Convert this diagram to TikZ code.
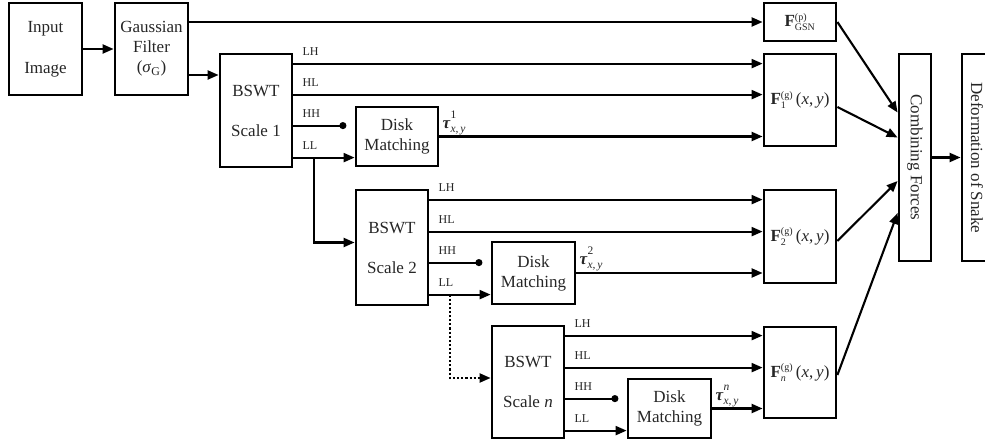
\documentclass[tikz,border=0pt]{standalone}
\usepackage{fontspec}
\setmainfont{Liberation Serif}
\usetikzlibrary{arrows.meta}
\newcommand\scrsize{\fontsize{11.5}{11.5}\selectfont}
\newcommand\fscr{\fontsize{10}{10}\selectfont}
\newcommand\Flab[2]{$\hbox{\bfseries F}^{\hbox{\fscr #1}}_{\hbox{\fscr #2}}$}
\newcommand\taulab[1]{\textbf{\textit{τ}}\makebox[0pt][l]{\raisebox{10pt}{\scrsize #1}}\raisebox{-4pt}{\scrsize\itshape x,\,y}}
\begin{document}
\begin{tikzpicture}[x=1pt,y=-1pt,
  box/.style={draw, line width=2.8pt, inner sep=0pt, align=center,
    font=\fontsize{17}{20}\selectfont, text=black!85},
  conn/.style={line width=2.1pt},
  arr/.style={conn, -{Triangle[length=11pt,width=9pt]}},
  dotend/.style={conn, -{Circle[length=7pt]}},
  dotted line/.style={line width=2.1pt, dotted},
  lbl/.style={font=\fontsize{12}{12}\selectfont, inner sep=0pt, anchor=south west, text=black!85},
  txt/.style={font=\fontsize{17}{20}\selectfont, inner sep=0pt, text=black!85},
  taustyle/.style={inner sep=0pt, anchor=base west, text=black!85, font=\fontsize{17}{20}\selectfont}]
\useasboundingbox (0,0) rectangle (985,446);

% boxes
\node[box, minimum width=73pt, minimum height=92pt] (inp) at (45.5,49) {Input\\[21pt]Image};
\node[box, minimum width=73pt, minimum height=92pt] (gau) at (151.5,49) {Gaussian\\Filter\\(\textit{σ}\textsubscript{G})};
\node[box, minimum width=72pt, minimum height=113pt] (b1) at (256,110.5) {BSWT\\[20pt]Scale 1};
\node[box, minimum width=82pt, minimum height=59pt] (d1) at (397,136.5) {Disk\\Matching};
\node[box, minimum width=72pt, minimum height=115pt] (b2) at (392,247.5) {BSWT\\[20pt]Scale 2};
\node[box, minimum width=83pt, minimum height=62pt] (d2) at (533.5,273) {Disk\\Matching};
\node[box, minimum width=72pt, minimum height=112pt] (bn) at (528,382) {BSWT\\[20pt]Scale \textit{n}};
\node[box, minimum width=83pt, minimum height=59pt] (dn) at (669.5,408.5) {Disk\\Matching};

\node[box, minimum width=72pt, minimum height=38pt] (fg) at (800,22) {\Flab{(p)}{GSN}};
\node[box, minimum width=72pt, minimum height=92pt] (f1) at (800,100) {\Flab{(g)}{1}\,(\textit{x},\,\textit{y})};
\node[box, minimum width=72pt, minimum height=93pt] (f2) at (800,236.5) {\Flab{(g)}{2}\,(\textit{x},\,\textit{y})};
\node[box, minimum width=72pt, minimum height=91pt] (fn) at (800,372.5) {\Flab{(g)}{\itshape n}\,(\textit{x},\,\textit{y})};

\node[box, minimum width=32pt, minimum height=207pt] (comb) at (915,157.5) {};
\node[txt, rotate=-90] (combt) at (comb) {Combining Forces};
\node[box, minimum width=42pt, minimum height=207pt] (def) at (983,157.5) {};
\node[txt, rotate=-90] (deft) at (977,158) {Deformation of Snake};

% top connectors
\draw[arr] (inp) -- (gau);
\draw[arr] (gau.east |- fg.west) -- (fg.west);
\coordinate (gout) at ([yshift=-26pt]gau.east);
\draw[arr] (gout) -- (gout -| b1.west);

% scale 1
\coordinate (b1lh) at ([yshift=-11pt]b1.north east);
\coordinate (b1hl) at ([yshift=-42pt]b1.north east);
\coordinate (b1hh) at ([yshift=-73pt]b1.north east);
\coordinate (b1ll) at ([yshift=-105pt]b1.north east);
\draw[arr] (b1lh) -- (b1lh -| f1.west);
\draw[arr] (b1hl) -- (b1hl -| f1.west);
\coordinate (b1dot) at ([xshift=53pt]b1hh);
\draw[dotend] (b1hh) -- (b1dot);
\draw[arr] (b1ll) -- (b1ll -| d1.west);
\draw[arr] (d1.east) -- (d1.east -| f1.west);
\node[lbl] (l1a) at ([xshift=9pt,yshift=8pt]b1lh) {LH};
\node[lbl] (l1b) at ([xshift=9pt,yshift=8pt]b1hl) {HL};
\node[lbl] (l1c) at ([xshift=9pt,yshift=8pt]b1hh) {HH};
\node[lbl] (l1d) at ([xshift=9pt,yshift=8pt]b1ll) {LL};
\node[taustyle] (t1) at ([xshift=3pt,yshift=8pt]d1.east) {\taulab{1}};

% scale 1 -> 2
\coordinate (b1down) at ([xshift=21pt]b1ll);
\coordinate (b2in) at ([yshift=5pt]b2.west);
\draw[arr] (b1down) |- (b2in);

% scale 2
\coordinate (b2lh) at ([yshift=-11pt]b2.north east);
\coordinate (b2hl) at ([yshift=-43pt]b2.north east);
\coordinate (b2hh) at ([yshift=-74pt]b2.north east);
\coordinate (b2ll) at ([yshift=-106pt]b2.north east);
\draw[arr] (b2lh) -- (b2lh -| f2.west);
\draw[arr] (b2hl) -- (b2hl -| f2.west);
\coordinate (b2dot) at ([xshift=53pt]b2hh);
\draw[dotend] (b2hh) -- (b2dot);
\draw[arr] (b2ll) -- (b2ll -| d2.west);
\draw[arr] (d2.east) -- (d2.east -| f2.west);
\node[lbl] (l2a) at ([xshift=9pt,yshift=8pt]b2lh) {LH};
\node[lbl] (l2b) at ([xshift=9pt,yshift=8pt]b2hl) {HL};
\node[lbl] (l2c) at ([xshift=9pt,yshift=8pt]b2hh) {HH};
\node[lbl] (l2d) at ([xshift=9pt,yshift=8pt]b2ll) {LL};
\node[taustyle] (t2) at ([xshift=3pt,yshift=8pt]d2.east) {\taulab{2}};

% scale 2 -> n (dotted)
\coordinate (b2down) at ([xshift=21pt]b2ll);
\coordinate (bnin) at ([yshift=4pt]bn.west);
\coordinate (bnpre) at ([xshift=-11pt]bnin);
\draw[dotted line] (b2down) |- (bnpre);
\draw[arr] (bnpre) -- (bnin);

% scale n
\coordinate (bnlh) at ([yshift=-11pt]bn.north east);
\coordinate (bnhl) at ([yshift=-43pt]bn.north east);
\coordinate (bnhh) at ([yshift=-74pt]bn.north east);
\coordinate (bnll) at ([yshift=-106pt]bn.north east);
\draw[arr] (bnlh) -- (bnlh -| fn.west);
\draw[arr] (bnhl) -- (bnhl -| fn.west);
\coordinate (bndot) at ([xshift=53pt]bnhh);
\draw[dotend] (bnhh) -- (bndot);
\draw[arr] (bnll) -- (bnll -| dn.west);
\draw[arr] (dn.east) -- (dn.east -| fn.west);
\node[lbl] (lna) at ([xshift=9pt,yshift=8pt]bnlh) {LH};
\node[lbl] (lnb) at ([xshift=9pt,yshift=8pt]bnhl) {HL};
\node[lbl] (lnc) at ([xshift=9pt,yshift=8pt]bnhh) {HH};
\node[lbl] (lnd) at ([xshift=9pt,yshift=8pt]bnll) {LL};
\node[taustyle] (tn) at ([xshift=3pt,yshift=8pt]dn.east) {\taulab{\itshape n}};

% forces to combining
\draw[arr] (fg.east) -- ([yshift=45pt]comb.west);
\draw[arr] ([yshift=-7pt]f1.east) -- ([yshift=20pt]comb.west);
\draw[arr] ([yshift=-4.5pt]f2.east) -- ([yshift=-23.5pt]comb.west);
\draw[arr] ([yshift=-2.5pt]fn.east) -- ([yshift=-55.5pt]comb.west);
\draw[arr] (comb.east) -- (def.west);
\end{tikzpicture}
\end{document}
